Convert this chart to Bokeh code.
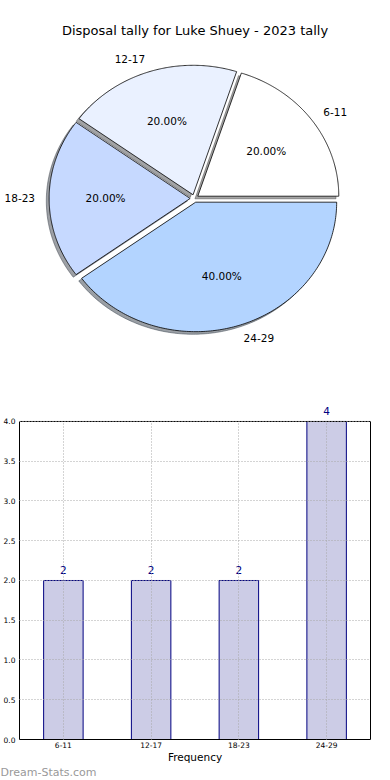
import numpy as np
from bokeh.plotting import figure
from bokeh.models import (Range1d, Label, LabelSet, ColumnDataSource, LinearAxis,
                          FixedTicker, NumeralTickFormatter, Span, Title)
from bokeh.embed import file_html
from bokeh.resources import INLINE
from bokeh.core.properties import value

# ---------------- data ----------------
title_text = "Disposal tally for Luke Shuey - 2023 tally"
categories = ["6-11", "12-17", "18-23", "24-29"]
counts = [2, 2, 2, 4]
slice_colors = ["#ffffff", "#eaf1ff", "#c6d9ff", "#b3d4ff"]
y_ticks = [0.0, 0.5, 1.0, 1.5, 2.0, 2.5, 3.0, 3.5, 4.0]
x_axis_title = "Frequency"
watermark = "Dream-Stats.com"

FONT = "DejaVu Sans"
W = 390

# ---------------- pie ----------------
explode = 0.03
pie = figure(width=W, height=386, x_range=Range1d(-1.375, 1.391),
             y_range=Range1d(-1.452, 1.529), output_backend="svg",
             toolbar_location=None, min_border=0,
             x_axis_location=None, y_axis_location=None)
pie.grid.visible = False
pie.outline_line_color = None

vals = np.array(counts, dtype=float)
fracs = vals / vals.sum()
edges = np.concatenate([[0.0], np.cumsum(fracs)]) * 2 * np.pi

wx, wy, shx, shy, shc = [], [], [], [], []
lab_l = dict(x=[], y=[], t=[])
lab_r = dict(x=[], y=[], t=[])
pct = dict(x=[], y=[], t=[])
for i in range(len(vals)):
    t = np.linspace(edges[i], edges[i + 1], 150)
    mid = 0.5 * (edges[i] + edges[i + 1])
    cx, cy = explode * np.cos(mid), explode * np.sin(mid)
    px = np.concatenate([[cx], cx + np.cos(t)])
    py = np.concatenate([[cy], cy + np.sin(t)])
    wx.append(px); wy.append(py)
    shx.append(px - 0.02); shy.append(py - 0.02)
    h = slice_colors[i].lstrip("#")
    rgb = [int(h[k:k + 2], 16) for k in (0, 2, 4)]
    shc.append("#%02x%02x%02x" % tuple(int(0.3 * c) for c in rgb))
    lx, ly = cx + 1.1 * np.cos(mid), cy + 1.1 * np.sin(mid)
    d = lab_l if lx > 0 else lab_r
    d["x"].append(lx); d["y"].append(ly); d["t"].append(categories[i])
    pct["x"].append(cx + 0.6 * np.cos(mid))
    pct["y"].append(cy + 0.6 * np.sin(mid))
    pct["t"].append("%.2f%%" % (100 * fracs[i]))

pie.patches(xs=shx, ys=shy, fill_color=shc, fill_alpha=0.5,
            line_color=shc, line_alpha=0.5, line_width=1)
pie.patches(xs=wx, ys=wy, fill_color=slice_colors, line_color="black", line_width=0.8)

for d, al in ((lab_l, "left"), (lab_r, "right")):
    pie.text(x=d["x"], y=d["y"], text=d["t"], text_align=al, text_baseline="middle",
             text_font=value(FONT), text_font_size="10.5px", text_color="black")
pie.text(x=pct["x"], y=pct["y"], text=pct["t"], text_align="center",
         text_baseline="middle", text_font=value(FONT), text_font_size="10.5px",
         text_color="black")

pie.add_layout(Label(x=194.5, y=356, x_units="screen", y_units="screen",
                     text=title_text, text_align="center", text_baseline="middle",
                     text_font=FONT, text_font_size="13px", text_color="black"))

# ---------------- bars ----------------
xpos = list(range(len(categories)))
x_lo, x_hi = -0.5, len(categories) - 0.5
ymax = y_ticks[-1]
bar = figure(width=W, height=394, x_range=Range1d(x_lo, x_hi),
             y_range=Range1d(0, 4.289), output_backend="svg", toolbar_location=None,
             min_border_left=19, min_border_right=20, min_border_top=12,
             min_border_bottom=40)
bar.outline_line_color = None
bar.vbar(x=xpos, top=counts, width=0.45, fill_color="#ccccE6",
         line_color="#000080", line_width=1)

src = ColumnDataSource(dict(x=xpos, y=counts, t=[str(c) for c in counts]))
bar.add_layout(LabelSet(x="x", y="y", text="t", source=src, text_align="center",
                        text_baseline="alphabetic", y_offset=6,
                        text_font=value(FONT), text_font_size="10.5px",
                        text_color="#000080"))

for g in (bar.xgrid, bar.ygrid):
    g.grid_line_color = "#a8a8a8"
    g.grid_line_dash = "1 2"
    g.grid_line_width = 1
    g.level = "overlay"
bar.xgrid.cross_bounds = (0, ymax)

bar.xaxis.ticker = FixedTicker(ticks=xpos)
bar.xaxis.major_label_overrides = {i: c for i, c in zip(xpos, categories)}
bar.yaxis.ticker = FixedTicker(ticks=y_ticks)
bar.yaxis.formatter = NumeralTickFormatter(format="0.0")
bar.yaxis.bounds = (0, ymax)

rax = LinearAxis(ticker=FixedTicker(ticks=[]), bounds=(0, ymax))
bar.add_layout(rax, "right")

for ax in (bar.xaxis[0], bar.yaxis[0], rax):
    ax.major_tick_line_color = None
    ax.minor_tick_line_color = None
    ax.major_tick_out = 0
    ax.major_tick_in = 0
    ax.minor_tick_out = 0
    ax.minor_tick_in = 0
    ax.axis_line_color = "black"
    ax.axis_line_width = 1
    ax.major_label_text_font = FONT
    ax.major_label_text_color = "black"
bar.xaxis.major_label_text_font_size = "7.5px"
bar.yaxis[0].major_label_text_font_size = "7.5px"
bar.yaxis[0].major_label_standoff = 4
bar.xaxis.major_label_standoff = 2
bar.xaxis.axis_label = x_axis_title
bar.xaxis.axis_label_text_font = FONT
bar.xaxis.axis_label_text_font_size = "10.5px"
bar.xaxis.axis_label_text_font_style = "normal"
bar.xaxis.axis_label_text_color = "black"
bar.xaxis.axis_label_standoff = 0

bar.add_layout(Span(location=ymax, dimension="width", line_color="black", line_width=1))

bar.add_layout(Title(text=watermark, align="left", offset=-19, standoff=0,
                     vertical_align="top",
                     text_font=FONT, text_font_size="11px", text_font_style="normal",
                     text_color="#999999"), "below")

open("out.html", "w").write(file_html([pie, bar], INLINE))
